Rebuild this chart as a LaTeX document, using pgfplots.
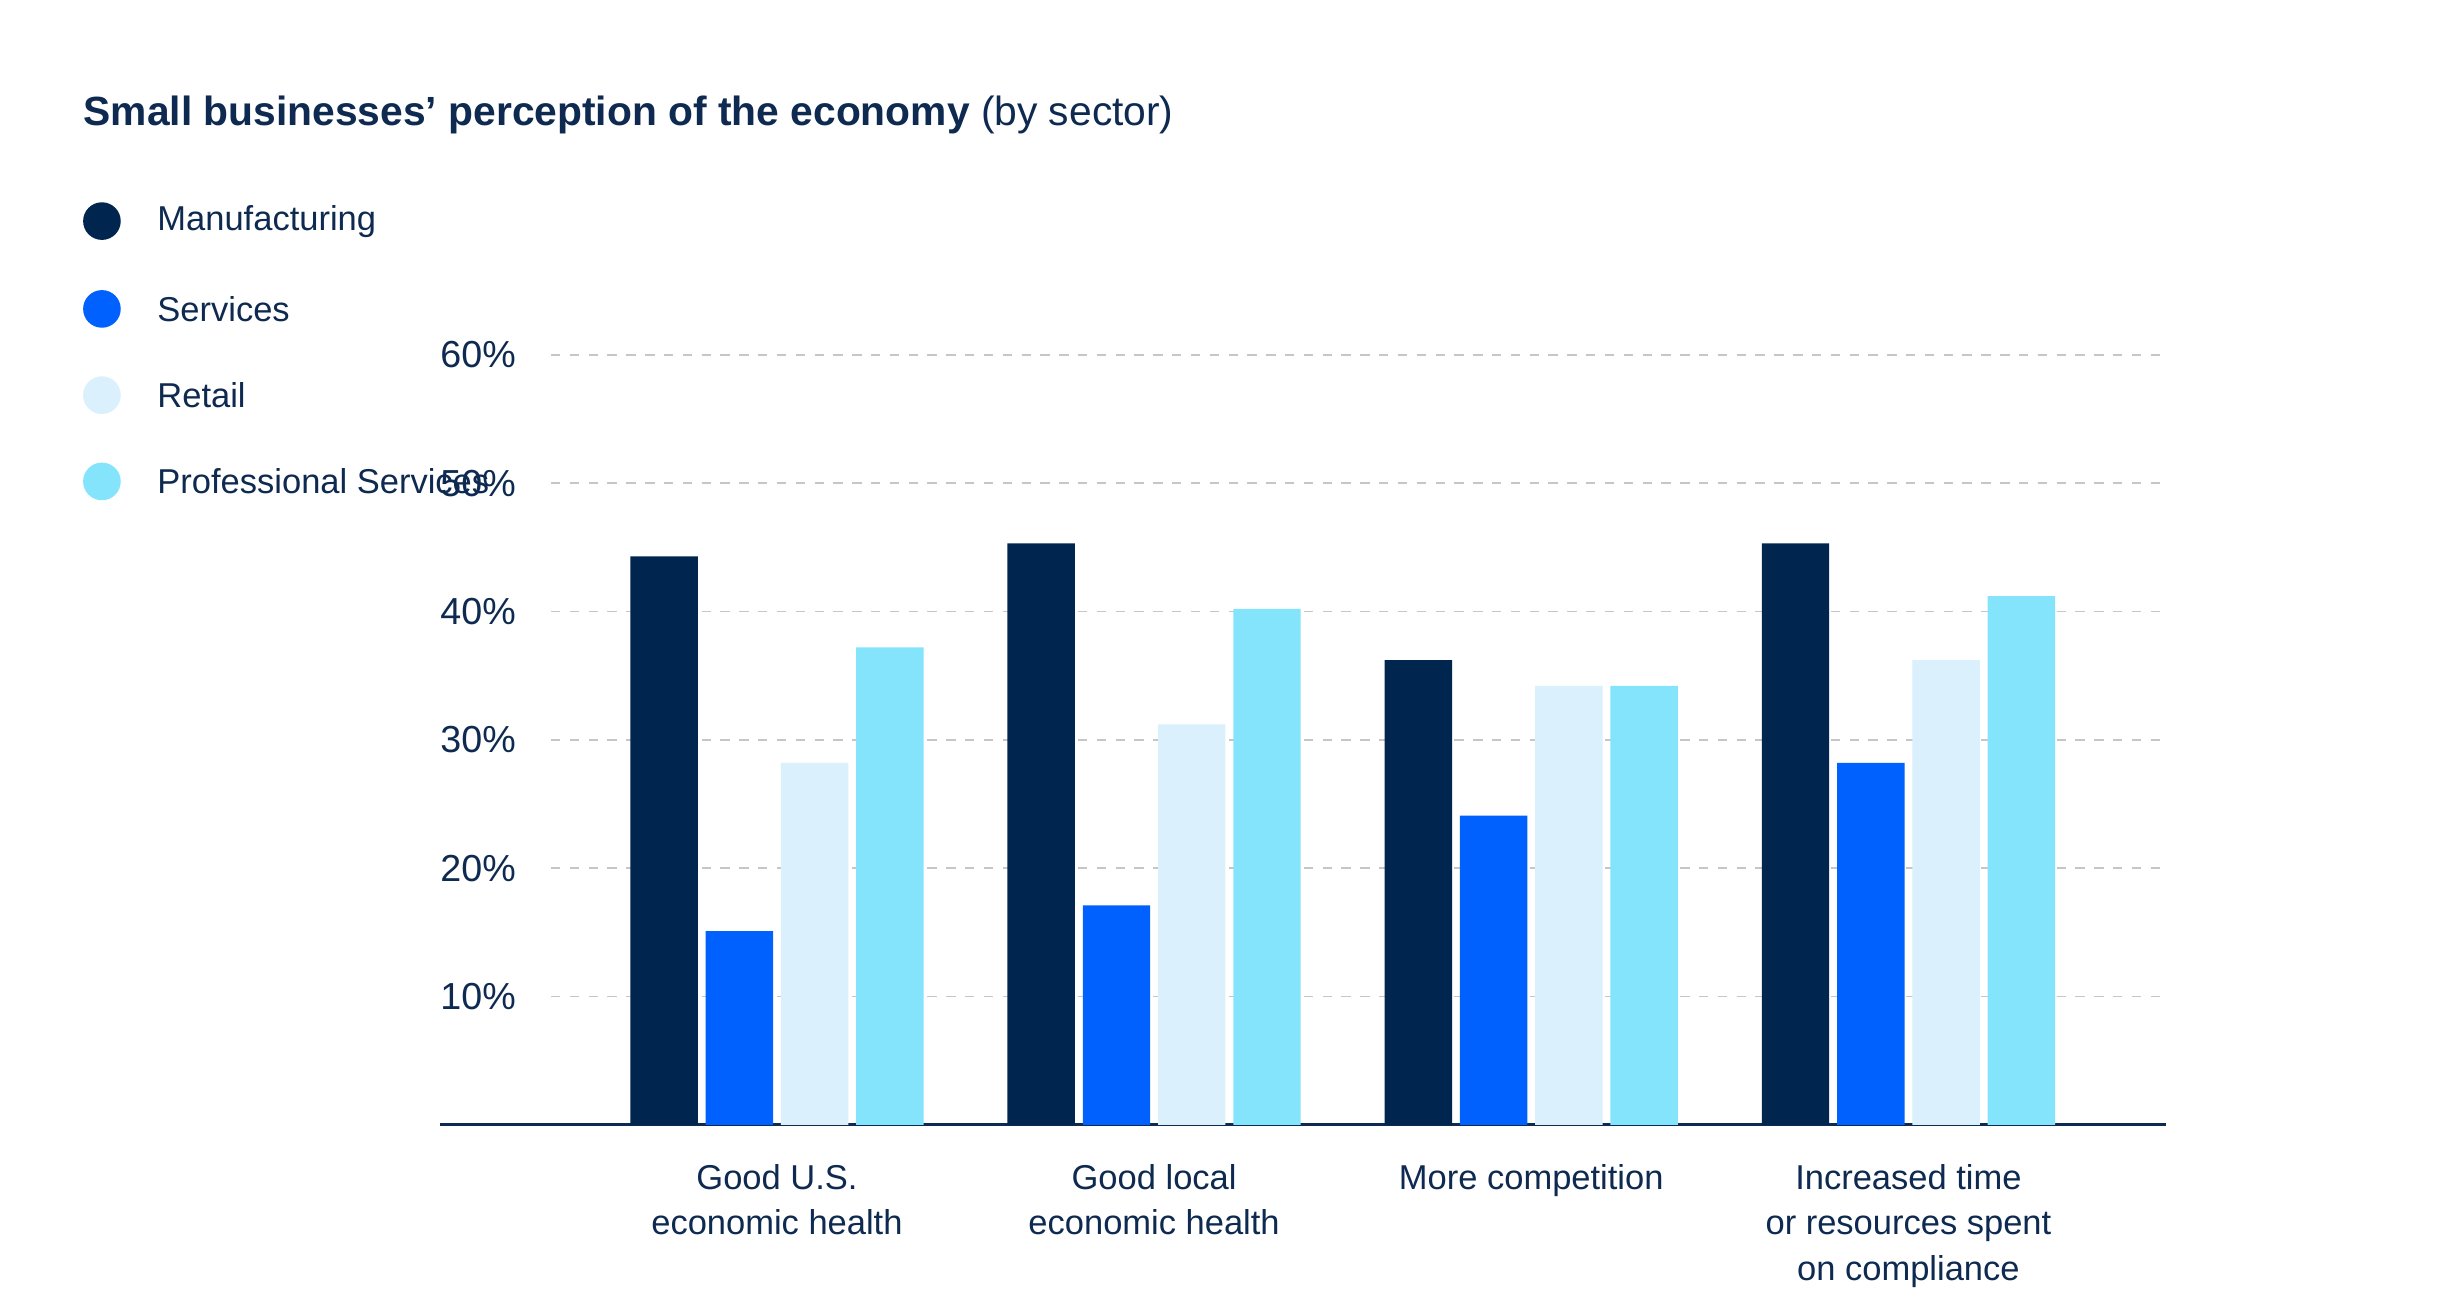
\documentclass[border=0pt]{standalone}
\usepackage{pgfplots}
\pgfplotsset{compat=1.18}
\usepackage{fontspec}
\setmainfont{Liberation Sans}
\definecolor{navy}{HTML}{00264F}
\definecolor{blu}{HTML}{0061FE}
\definecolor{lite}{HTML}{DAF0FC}
\definecolor{cyn}{HTML}{84E4FC}
\definecolor{txt}{HTML}{0E2A50}
\begin{document}
\begin{tikzpicture}[x=1pt,y=1pt]
\fill[white] (0,0) rectangle (784,388.5);
\node[anchor=base west,text=txt,font=\fontsize{13}{15}\selectfont,inner sep=0] at (26.5,348.5) {\textbf{Small businesses’ perception of the economy} (by sector)};
\foreach \c/\n/\yy in {navy/Manufacturing/141,blu/Services/197,lite/Retail/252,cyn/Professional Services/307}{
  \fill[\c] (32.5,388.5-\yy*0.5) circle (6);
  \node[anchor=west,text=txt,font=\fontsize{11}{13}\selectfont,inner sep=0] at (50,388.5-\yy*0.5) {\n};
}
\begin{axis}[at={(206,73)},anchor=origin,scale only axis,width=550.5pt,height=245.5pt,
  xmin=-0.894,xmax=3.684,ymin=0,ymax=60,
  axis x line=bottom, axis y line=none, axis line style={txt,line width=1pt,-},
  ybar, bar width=21.5pt,
  xtick={0,1,2,3}, major tick length=0,
  xticklabels={{Good U.S.\\economic health},{Good local\\economic health},{More competition},{Increased time\\or resources spent\\on compliance}},
  xticklabel style={align=center,text=txt,font=\fontsize{11}{14.5}\selectfont,yshift=-9pt},
  ytick=\empty,
  clip=false,
]
\pgfplotsinvokeforeach{10,20,30,40,50,60}{
  \draw[gray!45,dashed,line width=0.5pt] (axis cs:-0.599,#1) -- (axis cs:3.67,#1);
  \node[anchor=west,text=txt,font=\fontsize{12}{14}\selectfont,inner sep=0] at (axis cs:-0.894,#1) {#1\%};
}
\addplot[fill=navy,draw=none,bar shift=-36pt] coordinates {(0,44.3) (1,45.3) (2,36.2) (3,45.3)};
\addplot[fill=blu,draw=none,bar shift=-12pt] coordinates {(0,15.1) (1,17.1) (2,24.1) (3,28.2)};
\addplot[fill=lite,draw=none,bar shift=12pt] coordinates {(0,28.2) (1,31.2) (2,34.2) (3,36.2)};
\addplot[fill=cyn,draw=none,bar shift=36pt] coordinates {(0,37.2) (1,40.2) (2,34.2) (3,41.2)};
\end{axis}
\end{tikzpicture}
\end{document}
